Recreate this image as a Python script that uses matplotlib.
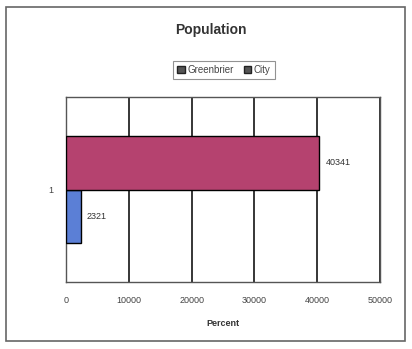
import matplotlib.pyplot as plt
from matplotlib.patches import Rectangle

# population figures
series = ['Greenbrier', 'City']
values = [2321, 40341]
colors = ['#5b7fd6', '#b5426f']
xticks = [0, 10000, 20000, 30000, 40000, 50000]

plt.rcParams['font.family'] = ['Liberation Sans', 'DejaVu Sans']

fig = plt.figure(figsize=(4.12, 3.49), dpi=100)
W, H = 412, 349
ax = fig.add_axes([66 / W, 1 - 282 / H, (380 - 66) / W, (282 - 97) / H])

h = 0.287
offsets = [-h / 2, h / 2]
bars = []
for name, v, c, off in zip(series, values, colors, offsets):
    b = ax.barh(off, v, height=h, color=c, edgecolor='black', linewidth=1.0,
                label=name, zorder=3)
    bars.append(b)
    ax.text(v + 1000, off, str(v), va='center', ha='left', fontsize=6.5,
            color='#333333', zorder=4)

ax.set_xlim(0, 50000)
ax.set_ylim(-0.5, 0.5)
ax.set_xticks(xticks)
ax.set_xticklabels([str(t) for t in xticks], fontsize=6.5, color='#444444')
ax.set_yticks([0])
ax.set_yticklabels(['1'], fontsize=6.5, color='#444444')
ax.tick_params(length=0, pad=10)
ax.tick_params(axis='y', pad=9)
ax.xaxis.grid(True, color='black', linewidth=1.1, zorder=0)
for s in ax.spines.values():
    s.set_color('#555555')
    s.set_linewidth(1.0)

ax.set_xlabel('Percent', fontsize=6.5, fontweight='bold', color='#333333',
              labelpad=10)

fig.text(211 / W, 1 - 30 / H, 'Population', ha='center', va='center',
         fontsize=10, fontweight='bold', color='#333333')

leg = fig.legend(handles=bars, loc='center', bbox_to_anchor=(224 / W, 1 - 70 / H),
                 ncol=2, fontsize=7, frameon=True, fancybox=False,
                 handlelength=0.8, handleheight=0.8, handletextpad=0.25,
                 columnspacing=1.0, borderpad=0.4)
leg.get_frame().set_edgecolor('#777777')
leg.get_frame().set_linewidth(0.8)
for p in leg.get_patches():
    p.set_facecolor('#555555')
    p.set_edgecolor('#222222')
for t in leg.get_texts():
    t.set_color('#444444')

# outer chart frame
fig.patches.append(Rectangle((6 / W, 1 - 341 / H), (405 - 6) / W, (341 - 7) / H,
                             transform=fig.transFigure, fill=False,
                             edgecolor='#666666', linewidth=1.2))

fig.savefig('out.png', dpi=100, facecolor='white')
